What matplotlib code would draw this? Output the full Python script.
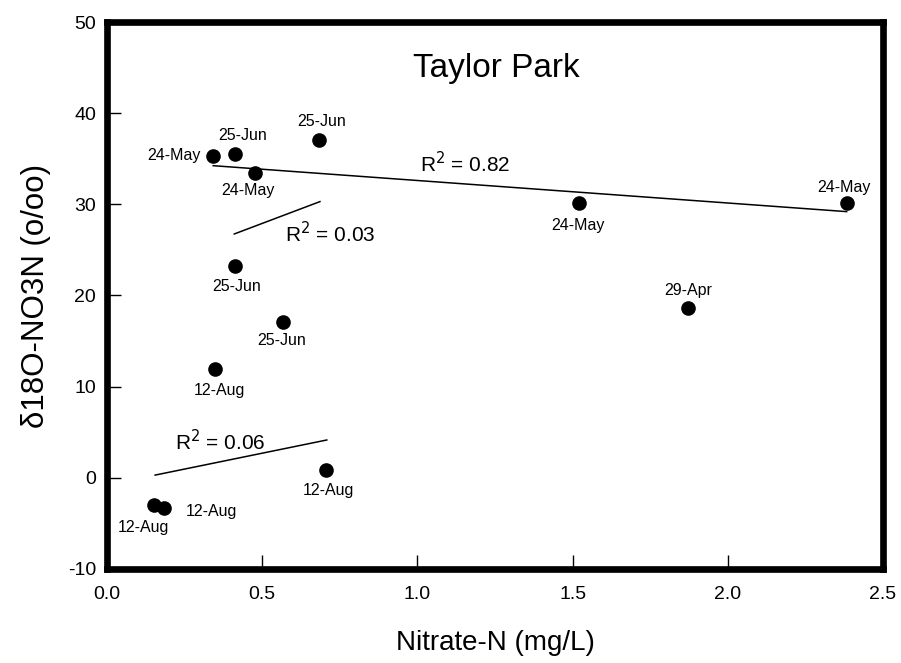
import matplotlib.pyplot as plt

plt.rcParams["font.family"] = ["Liberation Sans", "DejaVu Sans"]
plt.rcParams["axes.unicode_minus"] = False

# sample points: nitrate (mg/L), d18O (o/oo), date label
nitrate = [0.342, 0.412, 0.477, 0.683, 0.412, 0.566, 0.348, 0.152, 0.185, 0.705, 1.522, 2.383, 1.871]
d18o = [35.3, 35.5, 33.4, 37.1, 23.2, 17.1, 11.9, -3.0, -3.3, 0.86, 30.1, 30.1, 18.6]
dates = ["24-May", "25-Jun", "24-May", "25-Jun", "25-Jun", "25-Jun", "12-Aug",
         "12-Aug", "12-Aug", "12-Aug", "24-May", "24-May", "29-Apr"]
# where each date label sits (data coords) and its alignment
label_xy = [(0.30, 35.4), (0.437, 37.6), (0.455, 31.5), (0.692, 39.1), (0.416, 21.0),
            (0.563, 15.1), (0.362, 9.6), (0.117, -5.5), (0.335, -3.7), (0.713, -1.4),
            (1.518, 27.7), (2.375, 31.9), (1.871, 20.6)]
label_ha = ["right", "center", "center", "center", "center", "center", "center",
            "center", "center", "center", "center", "center", "center"]

# trend lines (endpoints) and R^2 text
trend_x = [(0.342, 2.383), (0.41, 0.686), (0.155, 0.708)]
trend_y = [(34.24, 29.2), (26.75, 30.3), (0.3, 4.15)]
r2_text = ["R$^2$ = 0.82", "R$^2$ = 0.03", "R$^2$ = 0.06"]
r2_xy = [(1.153, 34.5), (0.718, 26.8), (0.364, 4.0)]

fig = plt.figure(figsize=(9.01, 6.63), dpi=100)
ax = fig.add_axes([0.1188, 0.1418, 0.8612, 0.825])

ax.plot(nitrate, d18o, "o", color="black", markersize=9.5)
for tx, ty in zip(trend_x, trend_y):
    ax.plot(tx, ty, color="black", linewidth=1.1)

for (lx, ly), txt, ha in zip(label_xy, dates, label_ha):
    ax.text(lx, ly, txt, ha=ha, va="center", fontsize=11.5)

for (rx, ry), txt in zip(r2_xy, r2_text):
    ax.text(rx, ry, txt, ha="center", va="center", fontsize=15)

ax.text(1.255, 44.95, "Taylor Park", ha="center", va="center", fontsize=24)

ax.set_xlim(0, 2.5)
ax.set_ylim(-10, 50)
ax.set_xticks([0.0, 0.5, 1.0, 1.5, 2.0, 2.5])
ax.set_xticklabels(["0.0", "0.5", "1.0", "1.5", "2.0", "2.5"])
ax.set_yticks([-10, 0, 10, 20, 30, 40, 50])
ax.tick_params(direction="in", length=10, width=1, labelsize=14)
ax.tick_params(axis="x", pad=12)
ax.tick_params(axis="y", pad=8)

for s in ax.spines.values():
    s.set_linewidth(4.8)

ax.set_xlabel("Nitrate-N (mg/L)", fontsize=20, labelpad=20)
ax.set_ylabel("\u03b418O-NO3N (o/oo)", fontsize=22.5, labelpad=12)

fig.savefig("out.png", dpi=100)
